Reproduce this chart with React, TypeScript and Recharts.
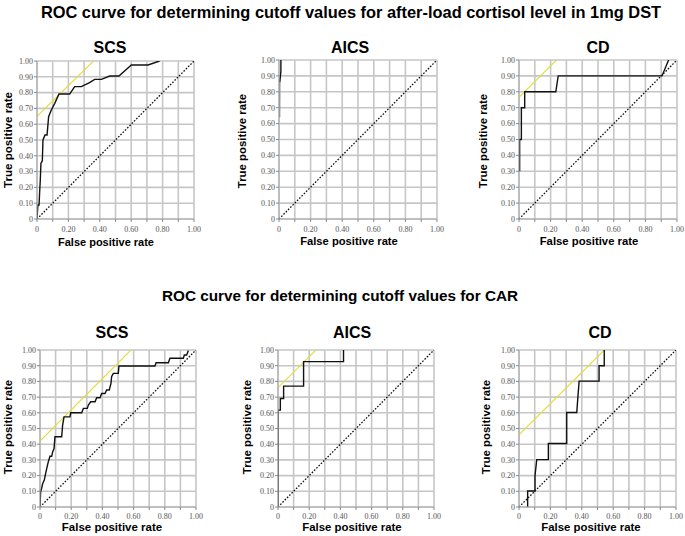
import React from 'react';
import { LineChart, Line, XAxis, YAxis, CartesianGrid } from 'recharts';

// ---- Titles ----
const titleTop = 'ROC curve for determining cutoff values for after-load cortisol level in 1mg DST';
const titleBottom = 'ROC curve for determining cutoff values for CAR';
const panelNames = ['SCS', 'AICS', 'CD'];
const xLabel = 'False positive rate';
const yLabel = 'True positive rate';

// ---- Ticks ----
const axisTicks = [0, 0.1, 0.2, 0.3, 0.4, 0.5, 0.6, 0.7, 0.8, 0.9, 1.0];

// ---- Reference lines ----
const diagFpr = [0, 1];
const diagTpr = [0, 1];

// ---- Top row: after-load cortisol in 1mg DST ----
const dstScsFpr = [0, 0.002, 0.006, 0.013, 0.017, 0.021, 0.025, 0.034, 0.038, 0.051, 0.064, 0.074, 0.091, 0.113, 0.14, 0.208, 0.24, 0.282, 0.335, 0.367, 0.41, 0.463, 0.522, 0.601, 0.707, 0.781];
const dstScsTpr = [0, 0.036, 0.089, 0.089, 0.173, 0.247, 0.352, 0.369, 0.5, 0.532, 0.532, 0.648, 0.69, 0.732, 0.791, 0.791, 0.838, 0.838, 0.863, 0.884, 0.884, 0.905, 0.905, 0.975, 0.975, 1.0];
const dstScsTanFpr = [0, 0.36];
const dstScsTanTpr = [0.65, 1.0];

const dstAicsGrayFpr = [0.004, 0.005];
const dstAicsGrayTpr = [0.64, 0.86];
const dstAicsFpr = [0.005, 0.012, 0.012];
const dstAicsTpr = [0.86, 0.93, 1.0];

const dstCdFpr = [0.004, 0.004, 0.015, 0.015, 0.036, 0.036, 0.233, 0.248, 0.905, 0.947];
const dstCdTpr = [0.3, 0.5, 0.5, 0.7, 0.7, 0.8, 0.8, 0.9, 0.9, 1.0];
const dstCdTanFpr = [0, 0.237];
const dstCdTanTpr = [0.765, 1.0];

// ---- Bottom row: CAR ----
const carScsFpr = [0, 0.004, 0.011, 0.017, 0.028, 0.036, 0.043, 0.053, 0.064, 0.075, 0.081, 0.09, 0.096, 0.139, 0.145, 0.154, 0.192, 0.197, 0.267, 0.278, 0.303, 0.31, 0.325, 0.353, 0.363, 0.385, 0.395, 0.417, 0.427, 0.444, 0.455, 0.459, 0.47, 0.502, 0.506, 0.737, 0.744, 0.823, 0.833, 0.919, 0.925, 0.94, 0.951];
const carScsTpr = [0, 0.096, 0.12, 0.149, 0.174, 0.213, 0.245, 0.287, 0.323, 0.323, 0.351, 0.372, 0.447, 0.447, 0.521, 0.574, 0.574, 0.6, 0.6, 0.628, 0.628, 0.649, 0.67, 0.67, 0.696, 0.696, 0.723, 0.723, 0.745, 0.745, 0.787, 0.83, 0.851, 0.851, 0.898, 0.898, 0.919, 0.919, 0.947, 0.947, 0.968, 0.968, 0.996];
const carScsTanFpr = [0, 0.583];
const carScsTanTpr = [0.42, 1.0];

const carAicsFpr = [0, 0, 0.015, 0.015, 0.036, 0.036, 0.164, 0.164, 0.42, 0.42];
const carAicsTpr = [0, 0.617, 0.617, 0.691, 0.691, 0.77, 0.77, 0.926, 0.926, 1.0];
const carAicsTanFpr = [0, 0.243];
const carAicsTanTpr = [0.76, 1.0];

const carCdFpr = [0.055, 0.055, 0.102, 0.102, 0.113, 0.187, 0.187, 0.304, 0.304, 0.368, 0.375, 0.383, 0.51, 0.51, 0.543, 0.543];
const carCdTpr = [0, 0.102, 0.102, 0.2, 0.302, 0.302, 0.404, 0.404, 0.602, 0.602, 0.7, 0.802, 0.802, 0.9, 0.9, 1.0];
const carCdTanFpr = [0, 0.543];
const carCdTanTpr = [0.46, 1.0];

type Pt = { x: number; y: number };
const pts = (xs: number[], ys: number[]): Pt[] => xs.map((x, i) => ({ x, y: ys[i] }));

type Series = { data: Pt[]; color: string; width: number; dash?: string };

const FONT = "'Liberation Sans', Arial, sans-serif";
const BLACK = '#111';
const YELLOW = '#e2dc3c';
const GRID = '#c6c6c6';
const TICKFILL = '#555';

const fmt = (v: number) => (Math.abs(v) < 1e-9 ? '0' : v.toFixed(2));
const fmtX = (v: number) => (Math.round(v * 10) % 2 === 0 ? fmt(v) : '');

type PanelProps = {
  L: number; T: number; R: number; B: number;
  title: string; titleX: number; titleY: number;
  xlX: number; xlY: number; xlSize: number;
  ylX: number; ylY: number; ylSize: number;
  xTickGap: number;
  series: Series[];
};

const Panel = (p: PanelProps) => {
  const ml = 40, mr = 10, mt = 10, xh = 25;
  const w = p.R - p.L + ml + mr;
  const h = p.B - p.T + mt + xh;
  return (
    <>
      <div style={{ position: 'absolute', left: p.L - ml, top: p.T - mt }}>
        <LineChart width={w} height={h} margin={{ top: mt, right: mr, bottom: 0, left: 0 }}>
          <CartesianGrid stroke={GRID} strokeWidth={1.6} />
          <XAxis
            type="number" dataKey="x" domain={[0, 1]} ticks={axisTicks} interval={0}
            tickFormatter={fmtX} height={xh} tickSize={3} tickMargin={p.xTickGap}
            axisLine={{ stroke: '#aaa' }} tickLine={{ stroke: '#888' }}
            tick={{ fontSize: 8, fill: TICKFILL, fontFamily: "'Liberation Serif', serif" }}
            allowDataOverflow
          />
          <YAxis
            type="number" domain={[0, 1]} ticks={axisTicks} interval={0}
            tickFormatter={fmt} width={ml} tickSize={3} tickMargin={1}
            axisLine={{ stroke: '#aaa' }} tickLine={{ stroke: '#888' }}
            tick={{ fontSize: 8, fill: TICKFILL, fontFamily: "'Liberation Serif', serif" }}
            allowDataOverflow
          />
          {p.series.map((s, i) => (
            <Line
              key={i} data={s.data} dataKey="y" type="linear" stroke={s.color}
              strokeWidth={s.width} strokeDasharray={s.dash} dot={false} activeDot={false}
              isAnimationActive={false}
            />
          ))}
        </LineChart>
      </div>
      <div style={{ position: 'absolute', left: p.titleX, top: p.titleY, transform: 'translate(-50%,-50%)', fontFamily: FONT, fontWeight: 'bold', fontSize: 16, lineHeight: '16px', whiteSpace: 'nowrap', color: '#000' }}>{p.title}</div>
      <div style={{ position: 'absolute', left: p.xlX, top: p.xlY, transform: 'translate(-50%,-50%)', fontFamily: FONT, fontWeight: 'bold', fontSize: p.xlSize, lineHeight: `${p.xlSize}px`, whiteSpace: 'nowrap', color: '#000' }}>{xLabel}</div>
      <div style={{ position: 'absolute', left: p.ylX, top: p.ylY, transform: 'translate(-50%,-50%) rotate(-90deg)', fontFamily: FONT, fontWeight: 'bold', fontSize: p.ylSize, lineHeight: `${p.ylSize}px`, whiteSpace: 'nowrap', color: '#000' }}>{yLabel}</div>
    </>
  );
};

const diag = (): Series => ({ data: pts(diagFpr, diagTpr), color: BLACK, width: 1.3, dash: '1.6 1.6' });
const tan = (xs: number[], ys: number[]): Series => ({ data: pts(xs, ys), color: YELLOW, width: 1.1 });
const roc = (xs: number[], ys: number[], color = BLACK): Series => ({ data: pts(xs, ys), color, width: 1.4 });

export default function App() {
  return (
    <div style={{ position: 'relative', width: 685, height: 536, background: '#fff', overflow: 'hidden' }}>
      <style>{'body{margin:0;}'}</style>
      <div style={{ position: 'absolute', left: 351, top: 12, transform: 'translate(-50%,-50%)', fontFamily: FONT, fontWeight: 'bold', fontSize: 16.4, lineHeight: '17px', whiteSpace: 'nowrap' }}>{titleTop}</div>
      <div style={{ position: 'absolute', left: 340, top: 295, transform: 'translate(-50%,-50%)', fontFamily: FONT, fontWeight: 'bold', fontSize: 15.3, lineHeight: '17px', whiteSpace: 'nowrap' }}>{titleBottom}</div>

      <Panel L={37} T={61} R={194} B={219} title={panelNames[0]} titleX={110} titleY={48}
        xlX={106} xlY={242} xlSize={11} ylX={8} ylY={140} ylSize={11.6} xTickGap={4}
        series={[diag(), tan(dstScsTanFpr, dstScsTanTpr), roc(dstScsFpr, dstScsTpr)]} />
      <Panel L={279} T={60} R={437} B={219} title={panelNames[1]} titleX={350} titleY={48}
        xlX={349} xlY={242} xlSize={11.2} ylX={243} ylY={141} ylSize={11.4} xTickGap={4}
        series={[diag(), roc(dstAicsGrayFpr, dstAicsGrayTpr, '#888'), roc(dstAicsFpr, dstAicsTpr)]} />
      <Panel L={519} T={60} R={677} B={219} title={panelNames[2]} titleX={598} titleY={48}
        xlX={589} xlY={242} xlSize={11.3} ylX={484} ylY={141} ylSize={11.4} xTickGap={4}
        series={[diag(), tan(dstCdTanFpr, dstCdTanTpr), roc(dstCdFpr, dstCdTpr)]} />

      <Panel L={40} T={350} R={196} B={507} title={panelNames[0]} titleX={112} titleY={333}
        xlX={112} xlY={528} xlSize={11.5} ylX={9} ylY={427} ylSize={11.4} xTickGap={3}
        series={[diag(), tan(carScsTanFpr, carScsTanTpr), roc(carScsFpr, carScsTpr)]} />
      <Panel L={278} T={350} R={434} B={507} title={panelNames[1]} titleX={352} titleY={333}
        xlX={352} xlY={528} xlSize={11.4} ylX={248} ylY={427} ylSize={11.4} xTickGap={3}
        series={[diag(), tan(carAicsTanFpr, carAicsTanTpr), roc(carAicsFpr, carAicsTpr)]} />
      <Panel L={519} T={350} R={676} B={507} title={panelNames[2]} titleX={600} titleY={333}
        xlX={591} xlY={528} xlSize={11.4} ylX={487} ylY={427} ylSize={11.4} xTickGap={3}
        series={[diag(), tan(carCdTanFpr, carCdTanTpr), roc(carCdFpr, carCdTpr)]} />
    </div>
  );
}
